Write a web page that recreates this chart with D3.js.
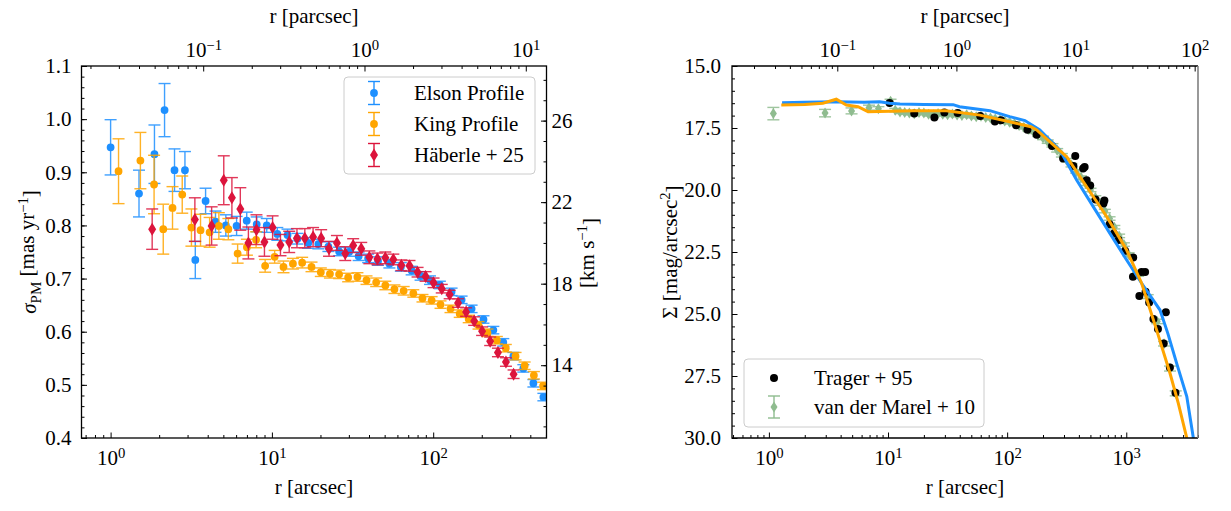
<!DOCTYPE html>
<html>
<head>
<meta charset="utf-8">
<script src="https://cdn.jsdelivr.net/npm/d3@7"></script>
<style>
body { margin: 0; background: #fff; }
svg text { font-family: "Liberation Serif", "DejaVu Serif", serif; fill: #000; }
</style>
</head>
<body>
<svg id="chart" width="1231" height="511"></svg>
<script>
// ---- data ----
// left panel: proper motion dispersion profiles (r in arcsec, sigma in mas/yr)
const elsonR = [1.00, 1.50, 1.87, 2.16, 2.49, 2.89, 3.35, 3.88, 4.47, 5.18, 6.04, 6.98, 8.05, 9.29, 10.8, 12.5, 14.4, 16.8, 19.4, 22.4, 26.1, 30.1, 34.5, 39.5, 45.5, 53.5, 63.0, 73.5, 83.5, 95.5, 110, 130, 150, 173, 205, 236, 272, 314, 362, 418, 482]
const elsonSigma = [0.947, 0.860, 0.934, 1.017, 0.904, 0.904, 0.735, 0.846, 0.807, 0.800, 0.799, 0.809, 0.802, 0.800, 0.784, 0.782, 0.775, 0.767, 0.765, 0.760, 0.751, 0.750, 0.742, 0.738, 0.733, 0.728, 0.722, 0.715, 0.705, 0.697, 0.688, 0.675, 0.660, 0.643, 0.623, 0.603, 0.580, 0.554, 0.531, 0.503, 0.477]
const elsonErr = [0.052, 0.044, 0.055, 0.050, 0.040, 0.035, 0.035, 0.024, 0.020, 0.020, 0.018, 0.016, 0.014, 0.013, 0.012, 0.011, 0.010, 0.010, 0.009, 0.009, 0.008, 0.008, 0.008, 0.008, 0.008, 0.008, 0.008, 0.008, 0.008, 0.008, 0.007, 0.007, 0.007, 0.007, 0.007, 0.007, 0.007, 0.007, 0.007, 0.007, 0.007]

const kingR = [1.12, 1.53, 1.86, 2.12, 2.42, 2.78, 3.17, 3.61, 4.11, 4.69, 5.37, 6.13, 7.00, 7.98, 9.08, 10.4, 11.8, 13.5, 15.4, 17.6, 20.1, 22.9, 26.1, 29.7, 33.9, 38.6, 44.3, 50.5, 57.5, 65.6, 75.3, 85.8, 97.8, 111, 128, 146, 166, 191, 217, 248, 282, 324, 369, 421, 480]
const kingSigma = [0.902, 0.922, 0.877, 0.793, 0.833, 0.858, 0.796, 0.791, 0.787, 0.799, 0.793, 0.747, 0.759, 0.773, 0.724, 0.741, 0.722, 0.728, 0.730, 0.722, 0.712, 0.709, 0.708, 0.702, 0.703, 0.697, 0.693, 0.687, 0.680, 0.677, 0.672, 0.663, 0.659, 0.651, 0.643, 0.634, 0.624, 0.612, 0.598, 0.584, 0.569, 0.554, 0.536, 0.518, 0.498]
const kingErr = [0.061, 0.053, 0.055, 0.047, 0.040, 0.035, 0.035, 0.030, 0.028, 0.025, 0.020, 0.018, 0.015, 0.015, 0.012, 0.012, 0.011, 0.010, 0.010, 0.009, 0.008, 0.008, 0.008, 0.008, 0.008, 0.008, 0.008, 0.008, 0.008, 0.008, 0.007, 0.007, 0.007, 0.007, 0.007, 0.007, 0.007, 0.007, 0.007, 0.007, 0.007, 0.007, 0.007, 0.007, 0.007]

const haeR = [1.81, 3.33, 4.23, 5.03, 5.65, 6.37, 7.15, 8.02, 8.99, 10.1, 11.3, 12.8, 14.3, 16.0, 18.0, 20.2, 22.6, 25.3, 28.5, 31.9, 35.8, 40.2, 45.1, 50.5, 56.6, 63.5, 71.3, 80.0, 89.7, 100.5, 113, 126.5, 142.6, 160, 179.5, 201, 225.5, 252, 282.5, 315]
const haeSigma = [0.793, 0.811, 0.799, 0.885, 0.852, 0.831, 0.767, 0.792, 0.769, 0.796, 0.763, 0.769, 0.776, 0.776, 0.778, 0.776, 0.756, 0.767, 0.747, 0.762, 0.756, 0.740, 0.737, 0.739, 0.736, 0.725, 0.724, 0.712, 0.704, 0.692, 0.681, 0.670, 0.654, 0.637, 0.620, 0.601, 0.582, 0.561, 0.543, 0.520]
const haeErr = [0.038, 0.041, 0.036, 0.046, 0.038, 0.040, 0.030, 0.028, 0.027, 0.022, 0.020, 0.020, 0.018, 0.018, 0.018, 0.016, 0.014, 0.014, 0.013, 0.013, 0.012, 0.012, 0.011, 0.011, 0.010, 0.010, 0.010, 0.009, 0.009, 0.009, 0.008, 0.008, 0.008, 0.008, 0.008, 0.008, 0.008, 0.008, 0.008, 0.008]

// right panel: surface brightness (r in arcsec, mag/arcsec^2)
const tragerR = [10.3, 16.6, 24.5, 29.7, 38.4, 59.4, 78.9, 88.7, 119, 148, 177, 238, 295, 373, 360, 434, 447, 465, 498, 552, 643, 655, 724, 785, 861, 977, 1143, 1138, 1343, 1439, 1288, 1452, 1556, 1690, 1845, 2148, 2061, 2323, 2588]
const tragerMag = [16.49, 16.92, 17.08, 16.88, 16.90, 17.02, 17.24, 17.19, 17.39, 17.57, 17.77, 18.23, 18.73, 18.63, 19.03, 19.13, 19.07, 19.61, 19.82, 20.38, 20.54, 20.42, 21.38, 21.75, 22.02, 22.45, 22.72, 23.50, 23.31, 23.31, 24.27, 24.10, 24.54, 25.20, 25.60, 24.93, 26.19, 27.16, 28.18]

const marelR = [1.09, 2.96, 4.94, 6.92, 8.3, 10.5, 11.5, 12.6, 13.8, 15.1, 16.6, 18.2, 20.0, 21.9, 24.0, 26.3, 28.8, 31.6, 34.7, 38.0, 41.7, 45.7, 50.1, 55.0, 60.3, 66.1, 72.4, 79.4, 87.1, 95.5, 105, 115, 126, 138, 151, 166, 182, 200, 219, 240, 263, 288, 316, 347, 380, 417, 457, 501, 550, 603, 661, 724, 794, 871, 955, 1047, 1259, 1514, 1820, 2075, 2330, 2600]
const marelMag = [16.92, 16.90, 16.81, 16.68, 16.72, 16.42, 16.78, 16.85, 16.88, 16.90, 16.93, 16.88, 16.90, 16.95, 16.97, 16.92, 16.95, 16.97, 16.94, 16.98, 17.00, 16.97, 17.02, 17.05, 17.03, 17.08, 17.10, 17.14, 17.18, 17.22, 17.27, 17.33, 17.40, 17.47, 17.55, 17.65, 17.77, 17.90, 18.05, 18.20, 18.40, 18.60, 18.80, 19.00, 19.25, 19.50, 19.75, 20.00, 20.30, 20.55, 20.85, 21.15, 21.50, 21.85, 22.20, 22.60, 23.40, 24.30, 25.30, 26.20, 27.20, 28.20]
const marelErr = [0.25, 0.15, 0.12, 0.10, 0.08, 0.08, 0.07, 0.07, 0.07, 0.07, 0.07, 0.07, 0.07, 0.07, 0.07, 0.07, 0.07, 0.07, 0.07, 0.07, 0.07, 0.07, 0.07, 0.07, 0.07, 0.07, 0.07, 0.07, 0.07, 0.07, 0.07, 0.07, 0.07, 0.07, 0.07, 0.07, 0.07, 0.07, 0.07, 0.07, 0.07, 0.07, 0.07, 0.07, 0.07, 0.07, 0.07, 0.07, 0.07, 0.07, 0.07, 0.07, 0.07, 0.07, 0.07, 0.07, 0.08, 0.08, 0.09, 0.09, 0.10, 0.10]

const elsonModelR = [1.29, 2.0, 3.68, 6.3, 8.5, 10.3, 12.6, 20, 35.2, 39.8, 71.6, 105, 141, 188, 277, 383, 528, 729, 1007, 1346, 1919, 2239, 2649, 3221, 3656]
const elsonModelMag = [16.48, 16.46, 16.44, 16.46, 16.44, 16.50, 16.53, 16.55, 16.56, 16.64, 16.80, 17.04, 17.20, 17.58, 18.39, 19.60, 20.67, 21.75, 22.82, 23.76, 24.84, 25.80, 26.99, 28.33, 30.0]
const kingModelR = [1.27, 2.0, 2.84, 3.68, 4.47, 5.6, 6.8, 16.2, 30.9, 58.9, 105, 158, 177, 316, 465, 684, 1007, 1346, 1799, 2328, 2735, 3221]
const kingModelMag = [16.57, 16.55, 16.50, 16.34, 16.57, 16.64, 16.84, 16.80, 16.80, 16.98, 17.25, 17.45, 17.58, 18.66, 19.87, 21.07, 22.42, 23.76, 25.65, 27.39, 28.60, 30.0]

// ticks
const sigmaTicks = [0.4, 0.5, 0.6, 0.7, 0.8, 0.9, 1.0, 1.1]
const kmsTicks = [14, 18, 22, 26]
const magTicks = [15, 17.5, 20, 22.5, 25, 27.5, 30]
const arcsecDecadesL = [1, 10, 100]
const arcsecDecadesR = [1, 10, 100, 1000]
const pcDecadesL = [0.1, 1, 10]
const pcDecadesR = [0.1, 1, 10, 100]

const ARCSEC_PER_PC = 206265 / 5500
const KMS_PER_MASYR = 4.74047 * 5.5

const colors = {elson: '#1e90ff', king: '#ffa500', hae: '#dc143c', trager: '#000', marel: '#8fbc8f'}

const svg = d3.select('#chart')

// panel boxes
const PL = {x0: 81.5, x1: 546.5, y0: 66, y1: 438}
const PR = {x0: 732, x1: 1198, y0: 66, y1: 438}

// scales
const xL = d3.scaleLog().domain([0.66, 504]).range([PL.x0, PL.x1])
const xPcL = d3.scaleLog().domain([0.66 / ARCSEC_PER_PC, 504 / ARCSEC_PER_PC]).range([PL.x0, PL.x1])
const yL = d3.scaleLinear().domain([0.4, 1.1]).range([PL.y1, PL.y0])
const yKms = d3.scaleLinear().domain([0.4 * KMS_PER_MASYR, 1.1 * KMS_PER_MASYR]).range([PL.y1, PL.y0])

const xR = d3.scaleLog().domain([0.49, 4000]).range([PR.x0, PR.x1])
const xPcR = d3.scaleLog().domain([0.49 / ARCSEC_PER_PC, 4000 / ARCSEC_PER_PC]).range([PR.x0, PR.x1])
const yR = d3.scaleLinear().domain([15, 30]).range([PR.y0, PR.y1])

const FS = 21

// clip paths
const defs = svg.append('defs')
defs.append('clipPath').attr('id', 'clipL').append('rect')
  .attr('x', PL.x0).attr('y', PL.y0).attr('width', PL.x1 - PL.x0).attr('height', PL.y1 - PL.y0)
defs.append('clipPath').attr('id', 'clipR').append('rect')
  .attr('x', PR.x0).attr('y', PR.y0).attr('width', PR.x1 - PR.x0).attr('height', PR.y1 - PR.y0)

function powLabel(text, d) {
  const e = Math.round(Math.log10(d))
  text.text(null)
  text.append('tspan').text('10')
  text.append('tspan').attr('dy', '-0.48em').attr('font-size', '0.7em').text(e < 0 ? '\u2212' + (-e) : e)
}

function isDecade(d) {
  const l = Math.log10(d)
  return Math.abs(l - Math.round(l)) < 1e-6
}

// draws major + minor inward ticks for one side
function addAxis(axisFn, scale, major, minor, transform, fmt, pad) {
  const gMin = svg.append('g').attr('transform', transform)
    .call(axisFn(scale).tickValues(minor).tickSize(-3).tickFormat(''))
  gMin.select('.domain').remove()
  const gMaj = svg.append('g').attr('transform', transform)
    .call(axisFn(scale).tickValues(major).tickSize(-5.5).tickPadding(pad).tickFormat(fmt || null))
  gMaj.select('.domain').remove()
  gMaj.attr('font-family', null).attr('font-size', FS)
  svg.selectAll('.tick line').attr('stroke', '#000').attr('stroke-width', 1)
  return gMaj
}

function logMinor(scale) {
  return scale.ticks().filter(d => !isDecade(d))
}

function drawErrorbars(g, x, y, rs, vals, errs, color, cap, shape) {
  const pts = rs.map((r, i) => ({r: r, v: vals[i], e: errs[i]}))
  const bars = g.append('g').attr('stroke', color).attr('stroke-width', 1.4).attr('opacity', 0.85)
  bars.selectAll('line.v').data(pts).enter().append('line')
    .attr('x1', d => x(d.r)).attr('x2', d => x(d.r))
    .attr('y1', d => y(d.v - d.e)).attr('y2', d => y(d.v + d.e))
  bars.selectAll('line.lo').data(pts).enter().append('line')
    .attr('x1', d => x(d.r) - cap).attr('x2', d => x(d.r) + cap)
    .attr('y1', d => y(d.v - d.e)).attr('y2', d => y(d.v - d.e))
  bars.selectAll('line.hi').data(pts).enter().append('line')
    .attr('x1', d => x(d.r) - cap).attr('x2', d => x(d.r) + cap)
    .attr('y1', d => y(d.v + d.e)).attr('y2', d => y(d.v + d.e))
  g.append('g').selectAll('path').data(pts).enter().append('path')
    .attr('d', shape)
    .attr('transform', d => `translate(${x(d.r)},${y(d.v)})`)
    .attr('fill', color)
}

const circle = 'M3.9,0A3.9,3.9 0 1,1 -3.9,0A3.9,3.9 0 1,1 3.9,0Z'
const thinDiamond = 'M0,-6.5L4,0L0,6.5L-4,0Z'
const smallDiamond = 'M0,-5.5L3.5,0L0,5.5L-3.5,0Z'

// ---------------- left panel ----------------
const gL = svg.append('g').attr('clip-path', 'url(#clipL)')
drawErrorbars(gL, xL, yL, elsonR, elsonSigma, elsonErr, colors.elson, 6, circle)
drawErrorbars(gL, xL, yL, kingR, kingSigma, kingErr, colors.king, 6, circle)
drawErrorbars(gL, xL, yL, haeR, haeSigma, haeErr, colors.hae, 6, thinDiamond)

addAxis(d3.axisBottom, xL, arcsecDecadesL, logMinor(xL), `translate(0,${PL.y1})`, '', 0)
  .selectAll('.tick text').attr('y', 27).attr('dy', null).each(function (d) { powLabel(d3.select(this), d) })
addAxis(d3.axisTop, xPcL, pcDecadesL, logMinor(xPcL), `translate(0,${PL.y0})`, '', 9)
  .selectAll('.tick text').each(function (d) { powLabel(d3.select(this), d) })
addAxis(d3.axisLeft, yL, sigmaTicks, yL.ticks(35), `translate(${PL.x0},0)`, d3.format('.1f'), 10)
addAxis(d3.axisRight, yKms, kmsTicks, yKms.ticks(18), `translate(${PL.x1},0)`, d3.format('d'), 5)

svg.append('rect').attr('x', PL.x0).attr('y', PL.y0)
  .attr('width', PL.x1 - PL.x0).attr('height', PL.y1 - PL.y0)
  .attr('fill', 'none').attr('stroke', '#000').attr('stroke-width', 1.3)

// axis titles
svg.append('text').attr('x', (PL.x0 + PL.x1) / 2).attr('y', 23).attr('text-anchor', 'middle')
  .attr('font-size', FS).text('r [parcsec]')
svg.append('text').attr('x', (PL.x0 + PL.x1) / 2).attr('y', 494).attr('text-anchor', 'middle')
  .attr('font-size', FS).text('r [arcsec]')

const ylabL = svg.append('text').attr('transform', 'translate(36,252) rotate(-90)')
  .attr('text-anchor', 'middle').attr('font-size', FS)
ylabL.append('tspan').attr('font-style', 'italic').text('σ')
ylabL.append('tspan').attr('dy', '0.3em').attr('font-size', '0.72em').text('PM')
ylabL.append('tspan').attr('dy', '-0.3em').text(' [mas yr')
ylabL.append('tspan').attr('dy', '-0.45em').attr('font-size', '0.7em').text('\u22121')
ylabL.append('tspan').attr('dy', '0.45em').text(']')

const ylabK = svg.append('text').attr('transform', 'translate(594,253) rotate(-90)')
  .attr('text-anchor', 'middle').attr('font-size', FS)
ylabK.append('tspan').text('[km s')
ylabK.append('tspan').attr('dy', '-0.45em').attr('font-size', '0.7em').text('\u22121')
ylabK.append('tspan').attr('dy', '0.45em').text(']')

// legend left
const legL = svg.append('g')
legL.append('rect').attr('x', 344).attr('y', 77).attr('width', 191).attr('height', 97)
  .attr('rx', 4).attr('fill', '#fff').attr('fill-opacity', 0.8).attr('stroke', '#cccccc')
const legLItems = [
  {label: 'Elson Profile', color: colors.elson, shape: circle},
  {label: 'King Profile', color: colors.king, shape: circle},
  {label: 'Häberle + 25', color: colors.hae, shape: thinDiamond}
]
legLItems.forEach((it, i) => {
  const cy = 93 + i * 31
  const g = legL.append('g').attr('transform', `translate(374,${cy})`)
  g.append('line').attr('y1', -11.5).attr('y2', 11.5).attr('stroke', it.color).attr('stroke-width', 1.4)
  g.append('line').attr('x1', -6).attr('x2', 6).attr('y1', -11.5).attr('y2', -11.5).attr('stroke', it.color).attr('stroke-width', 1.4)
  g.append('line').attr('x1', -6).attr('x2', 6).attr('y1', 11.5).attr('y2', 11.5).attr('stroke', it.color).attr('stroke-width', 1.4)
  g.append('path').attr('d', it.shape).attr('fill', it.color)
  legL.append('text').attr('x', 414).attr('y', cy + 7).attr('font-size', FS).text(it.label)
})

// ---------------- right panel ----------------
const gR = svg.append('g').attr('clip-path', 'url(#clipR)')
drawErrorbars(gR, xR, yR, marelR, marelMag, marelErr, colors.marel, 6, smallDiamond)
gR.append('g').selectAll('circle').data(tragerR.map((r, i) => ({r: r, m: tragerMag[i]})))
  .enter().append('circle')
  .attr('cx', d => xR(d.r)).attr('cy', d => yR(d.m)).attr('r', 4).attr('fill', colors.trager)

const line = d3.line().x(d => xR(d[0])).y(d => yR(d[1]))
gR.append('path').datum(elsonModelR.map((r, i) => [r, elsonModelMag[i]]))
  .attr('d', line).attr('fill', 'none').attr('stroke', colors.elson).attr('stroke-width', 3)
gR.append('path').datum(kingModelR.map((r, i) => [r, kingModelMag[i]]))
  .attr('d', line).attr('fill', 'none').attr('stroke', colors.king).attr('stroke-width', 3)

addAxis(d3.axisBottom, xR, arcsecDecadesR, logMinor(xR), `translate(0,${PR.y1})`, '', 0)
  .selectAll('.tick text').attr('y', 27).attr('dy', null).each(function (d) { powLabel(d3.select(this), d) })
addAxis(d3.axisTop, xPcR, pcDecadesR, logMinor(xPcR), `translate(0,${PR.y0})`, '', 9)
  .selectAll('.tick text').each(function (d) { powLabel(d3.select(this), d) })
addAxis(d3.axisLeft, yR, magTicks, yR.ticks(30), `translate(${PR.x0},0)`, d3.format('.1f'), 11)

// frame: right spine is grey in the original
svg.append('path').attr('d', `M${PR.x1},${PR.y0}H${PR.x0}V${PR.y1}H${PR.x1}`)
  .attr('fill', 'none').attr('stroke', '#000').attr('stroke-width', 1.3)
svg.append('line').attr('x1', PR.x1).attr('x2', PR.x1).attr('y1', PR.y0).attr('y2', PR.y1)
  .attr('stroke', '#808080').attr('stroke-width', 1.6)

svg.append('text').attr('x', (PR.x0 + PR.x1) / 2).attr('y', 23).attr('text-anchor', 'middle')
  .attr('font-size', FS).text('r [parcsec]')
svg.append('text').attr('x', (PR.x0 + PR.x1) / 2).attr('y', 494).attr('text-anchor', 'middle')
  .attr('font-size', FS).text('r [arcsec]')

const ylabR = svg.append('text').attr('transform', 'translate(677,252) rotate(-90)')
  .attr('text-anchor', 'middle').attr('font-size', FS)
ylabR.append('tspan').text('Σ [mag/arcsec')
ylabR.append('tspan').attr('dy', '-0.45em').attr('font-size', '0.7em').text('2')
ylabR.append('tspan').attr('dy', '0.45em').text(']')

// legend right
const legR = svg.append('g')
legR.append('rect').attr('x', 744).attr('y', 359).attr('width', 240).attr('height', 68)
  .attr('rx', 4).attr('fill', '#fff').attr('fill-opacity', 0.8).attr('stroke', '#cccccc')
legR.append('circle').attr('cx', 774).attr('cy', 378).attr('r', 4).attr('fill', colors.trager)
legR.append('text').attr('x', 814).attr('y', 385).attr('font-size', FS).text('Trager + 95')
const gm = legR.append('g').attr('transform', 'translate(774,407)').attr('stroke', colors.marel).attr('stroke-width', 1.4)
gm.append('line').attr('y1', -11).attr('y2', 11)
gm.append('line').attr('x1', -6).attr('x2', 6).attr('y1', -11).attr('y2', -11)
gm.append('line').attr('x1', -6).attr('x2', 6).attr('y1', 11).attr('y2', 11)
legR.append('path').attr('d', smallDiamond).attr('transform', 'translate(774,407)').attr('fill', colors.marel)
legR.append('text').attr('x', 814).attr('y', 414).attr('font-size', FS).text('van der Marel + 10')
</script>
</body>
</html>
